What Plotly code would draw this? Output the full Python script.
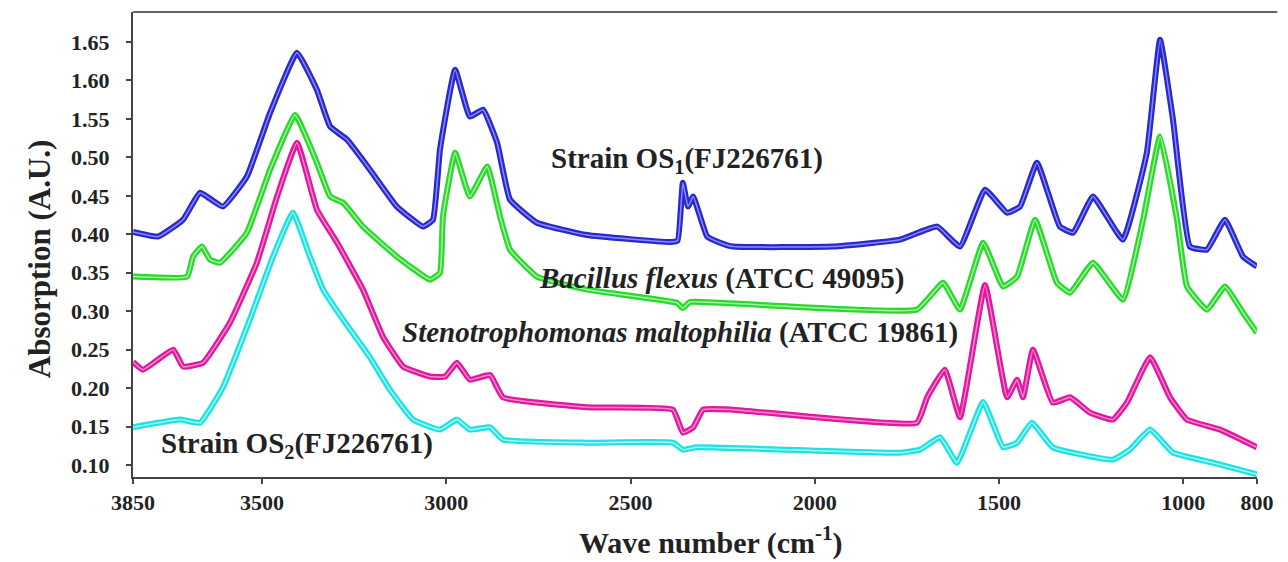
import plotly.graph_objects as go

# ---- data (wavenumber cm-1, absorption A.U.) ----
wn_os1 = [3850, 3782, 3714, 3668, 3606, 3541, 3478, 3405, 3351, 3315, 3269, 3207, 3134, 3063, 3036,
          3017, 2976, 2936, 2900, 2862, 2827, 2754, 2618, 2393, 2372, 2358, 2344, 2330, 2292, 2257,
          2222, 1950, 1769, 1668, 1606, 1538, 1478, 1443, 1397, 1335, 1299, 1245, 1164, 1099, 1063,
          1028, 982, 936, 887, 838, 800]
abs_os1 = [0.403, 0.397, 0.419, 0.454, 0.436, 0.475, 0.558, 0.636, 0.588, 0.540, 0.523, 0.484, 0.436, 0.410, 0.419,
           0.510, 0.614, 0.553, 0.562, 0.519, 0.445, 0.415, 0.399, 0.390, 0.392, 0.467, 0.436, 0.449, 0.397, 0.389,
           0.384, 0.384, 0.393, 0.410, 0.384, 0.458, 0.428, 0.436, 0.493, 0.410, 0.402, 0.449, 0.393, 0.506, 0.653,
           0.549, 0.384, 0.380, 0.419, 0.371, 0.358]

wn_bf = [3850, 3703, 3687, 3663, 3641, 3614, 3541, 3478, 3410, 3351, 3315, 3280, 3226, 3134, 3044, 3017,
         3009, 2976, 2936, 2889, 2854, 2827, 2754, 2618, 2374, 2358, 2339, 2257, 1723, 1652, 1606, 1543,
         1489, 1451, 1402, 1343, 1307, 1245, 1164, 1109, 1063, 1017, 990, 936, 887, 838, 800]
abs_bf = [0.345, 0.345, 0.371, 0.384, 0.367, 0.363, 0.402, 0.484, 0.555, 0.493, 0.449, 0.441, 0.410, 0.371, 0.341, 0.350,
          0.423, 0.506, 0.449, 0.488, 0.423, 0.380, 0.345, 0.328, 0.311, 0.304, 0.312, 0.311, 0.302, 0.337, 0.302, 0.389,
          0.332, 0.345, 0.419, 0.337, 0.324, 0.363, 0.315, 0.419, 0.527, 0.419, 0.332, 0.302, 0.332, 0.298, 0.272]

wn_sm = [3850, 3823, 3741, 3714, 3660, 3587, 3514, 3459, 3405, 3351, 3296, 3226, 3172, 3117, 3044, 3003,
         2971, 2936, 2881, 2846, 2618, 2385, 2358, 2330, 2303, 2222, 1723, 1695, 1647, 1606, 1538, 1478,
         1451, 1435, 1408, 1354, 1307, 1253, 1191, 1153, 1090, 1036, 990, 900, 800]
abs_sm = [0.234, 0.224, 0.250, 0.228, 0.233, 0.285, 0.363, 0.449, 0.519, 0.432, 0.389, 0.328, 0.267, 0.228, 0.215, 0.215,
          0.233, 0.211, 0.217, 0.188, 0.175, 0.172, 0.142, 0.149, 0.172, 0.172, 0.155, 0.188, 0.224, 0.162, 0.334, 0.188,
          0.211, 0.188, 0.250, 0.181, 0.188, 0.168, 0.159, 0.181, 0.240, 0.188, 0.159, 0.146, 0.123]

wn_os2 = [3850, 3722, 3668, 3606, 3533, 3470, 3416, 3370, 3334, 3280, 3207, 3153, 3090, 3017, 2971, 2936,
          2881, 2846, 2618, 2385, 2358, 2320, 1769, 1714, 1660, 1614, 1543, 1489, 1451, 1411, 1354, 1191,
          1145, 1090, 1028, 920, 800]
abs_os2 = [0.149, 0.159, 0.155, 0.201, 0.289, 0.371, 0.428, 0.371, 0.328, 0.289, 0.240, 0.198, 0.159, 0.146, 0.159, 0.146,
           0.149, 0.133, 0.129, 0.129, 0.120, 0.123, 0.116, 0.120, 0.136, 0.103, 0.182, 0.123, 0.129, 0.155, 0.123, 0.107,
           0.120, 0.146, 0.116, 0.103, 0.088]

series = [
    ("Strain OS1", wn_os1, abs_os1, "#2828cc", "#8a8aff"),
    ("Bacillus flexus", wn_bf, abs_bf, "#2cd82c", "#a6f2a6"),
    ("Stenotrophomonas maltophilia", wn_sm, abs_sm, "#e0189e", "#f48ad0"),
    ("Strain OS2", wn_os2, abs_os2, "#1ee2e2", "#a8f6f6"),
]

y_tickvals = [0.10, 0.15, 0.20, 0.25, 0.30, 0.35, 0.40, 0.45, 0.50, 0.55, 0.60, 0.65]
y_ticktext = ["0.10", "0.15", "0.20", "0.25", "0.30", "0.35", "0.40", "0.45", "0.50", "1.55", "1.60", "1.65"]
x_tickvals = [3850, 3500, 3000, 2500, 2000, 1500, 1000, 800]
x_ticktext = ["3850", "3500", "3000", "2500", "2000", "1500", "1000", "800"]

SERIF = "Liberation Serif, Times New Roman, serif"

fig = go.Figure()
for name, x, y, c_out, c_in in series:
    fig.add_trace(go.Scatter(x=x, y=y, mode="lines", name=name,
                             line=dict(color=c_out, width=6, shape="spline", smoothing=0.35),
                             showlegend=False))
    fig.add_trace(go.Scatter(x=x, y=y, mode="lines", name=name,
                             line=dict(color=c_in, width=1.5, shape="spline", smoothing=0.35),
                             showlegend=False, hoverinfo="skip"))

fig.update_layout(
    width=1288, height=562,
    margin=dict(l=133, r=31, t=12, b=85),
    plot_bgcolor="white", paper_bgcolor="white",
    font=dict(family=SERIF, color="#222"),
    xaxis=dict(range=[3850, 800], autorange=False, tickvals=x_tickvals, ticktext=x_ticktext,
               showgrid=False, zeroline=False, showline=True, linecolor="#444", linewidth=2,
               ticks="outside", ticklen=5, tickcolor="#444", tickwidth=1.5,
               tickfont=dict(family=SERIF, size=22, color="#222", weight="bold"),
               ticklabelstandoff=0),
    yaxis=dict(range=[0.0844, 0.689], tickvals=y_tickvals, ticktext=y_ticktext,
               showgrid=False, zeroline=False, showline=True, linecolor="#444", linewidth=2,
               ticks="outside", ticklen=5, tickcolor="#444", tickwidth=1.5,
               tickfont=dict(family=SERIF, size=22, color="#222", weight="bold"),
               ticklabelstandoff=12),
)

# top frame line (extends slightly past the plot area on the right)
fig.add_shape(type="line", xref="paper", yref="paper", x0=0, x1=1.018, y0=1, y1=1,
              line=dict(color="#666", width=2))

# axis titles
fig.add_annotation(text="<b>Absorption (A.U.)</b>", xref="paper", yref="paper",
                   x=-0.083, y=0.47, xanchor="center", yanchor="middle",
                   textangle=-90, showarrow=False,
                   font=dict(family=SERIF, size=31, color="#222"))
fig.add_annotation(text="<b>Wave number (cm<sup>-1</sup>)</b>", xref="paper", yref="paper",
                   x=0.514, y=-0.137, xanchor="center", yanchor="middle", showarrow=False,
                   font=dict(family=SERIF, size=30, color="#222"))

# series labels
labels = [
    ("<b>Strain OS<sub>1</sub>(FJ226761)</b>", 2347, 0.497),
    ("<b><i>Bacillus flexus</i> (ATCC 49095)</b>", 2252, 0.343),
    ("<b><i>Stenotrophomonas maltophilia</i> (ATCC 19861)</b>", 2366, 0.272),
    ("<b>Strain OS<sub>2</sub>(FJ226761)</b>", 3405, 0.126),
]
for txt, xv, yv in labels:
    fig.add_annotation(text=txt, x=xv, y=yv, xref="x", yref="y", showarrow=False,
                       xanchor="center", yanchor="middle",
                       font=dict(family=SERIF, size=29, color="#222"))

fig.write_html("out.html")
